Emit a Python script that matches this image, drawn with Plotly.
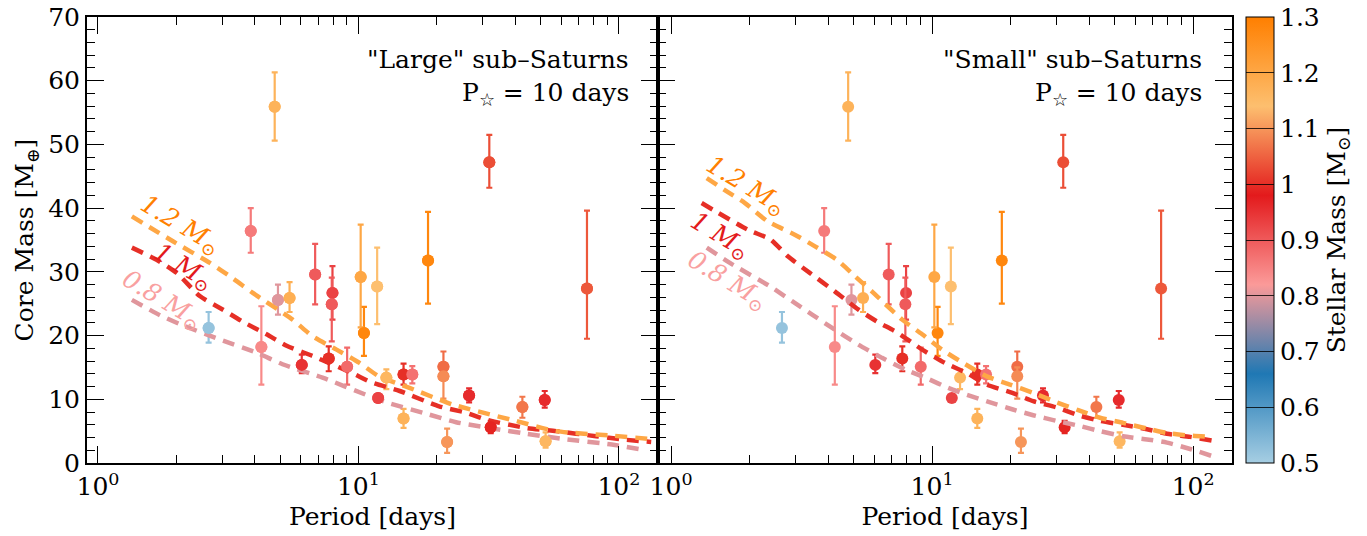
import numpy as np
import plotly.graph_objects as go

# ---------------- data ----------------
period = [4.77, 3.86, 2.66, 4.91, 5.44, 6.82, 7.95, 7.90, 10.5, 10.2, 11.8, 4.24, 6.06, 7.69, 9.05,
          11.9, 18.5, 75.4, 31.8, 12.8, 14.9, 16.1, 14.9, 21.2, 21.2, 21.9, 26.6, 32.2, 42.6, 51.9, 52.3]
core_mass = [55.9, 36.4, 21.2, 25.6, 25.9, 29.6, 26.7, 24.9, 20.4, 29.2, 27.7, 18.2, 15.4, 16.4, 15.1,
             10.2, 31.8, 27.4, 47.2, 13.4, 13.9, 13.9, 7.0, 15.1, 13.6, 3.3, 10.6, 5.6, 8.8, 9.9, 3.4]
core_upper = [61.3, 40.0, 23.7, 28.0, 28.4, 34.4, 30.9, 29.1, 24.5, 37.4, 33.8, 24.6, 17.0, 18.3, 18.1,
              10.8, 39.4, 39.6, 51.5, 14.7, 15.6, 15.2, 8.5, 17.5, 15.0, 5.4, 11.7, 6.6, 10.4, 11.3, 4.8]
core_lower = [50.6, 33.0, 18.9, 23.3, 23.7, 24.9, 22.5, 19.1, 16.8, 21.3, 21.8, 12.3, 14.1, 14.4, 12.3,
              9.7, 25.0, 19.5, 43.2, 11.6, 12.3, 12.5, 5.5, 13.5, 10.1, 1.6, 9.5, 4.7, 7.1, 8.7, 2.4]
stellar_mass = [1.17, 0.86, 0.52, 0.80, 1.18, 0.90, 0.93, 0.90, 1.28, 1.20, 1.14, 0.84, 0.95, 1.00, 0.88,
                0.93, 1.28, 1.04, 1.03, 1.16, 1.00, 0.87, 1.17, 1.06, 1.09, 1.10, 0.96, 0.99, 1.07, 0.96, 1.16]

# model curves, "Large" sub-Saturns panel
large_p_12 = [1.35, 1.94, 2.69, 3.29, 3.93, 5.59, 6.66, 8.24, 10.1, 12.0, 15.7, 22.9, 40.3, 57.4, 94.0, 130]
large_m_12 = [38.7, 34.8, 31.4, 29.0, 26.7, 22.5, 19.9, 17.8, 15.7, 13.6, 11.8, 9.2, 6.6, 5.0, 4.3, 3.8]
large_p_10 = [1.35, 1.68, 2.01, 2.46, 3.01, 3.59, 4.44, 5.30, 6.66, 9.48, 11.3, 14.4, 20.4, 25.9, 30.9,
              44.0, 57.4, 81.6, 103, 133]
large_m_10 = [33.8, 31.9, 29.8, 26.2, 24.1, 22.2, 20.2, 18.4, 16.8, 14.1, 12.6, 11.3, 8.9, 7.9, 6.8,
              5.5, 5.0, 4.2, 3.7, 3.3]
large_p_08 = [1.35, 1.73, 2.06, 2.93, 4.07, 5.11, 7.28, 10.7, 13.1, 18.7, 23.7, 42.5, 60.5, 94.0, 127]
large_m_08 = [25.6, 23.2, 21.8, 19.4, 17.3, 15.5, 13.4, 10.7, 9.4, 7.6, 6.4, 4.7, 3.8, 2.9, 2.0]

# model curves, "Small" sub-Saturns panel
small_p_12 = [1.37, 1.64, 1.92, 2.35, 2.99, 3.56, 4.32, 5.07, 5.89, 7.68, 9.16, 10.9, 12.8, 16.2, 19.9,
              24.4, 30.1, 36.3, 44.0, 53.9, 66.6, 79.4, 97.4, 119]
small_m_12 = [44.7, 42.6, 40.8, 37.9, 35.8, 34.0, 31.9, 29.3, 26.9, 22.5, 20.2, 17.8, 16.0, 13.6, 12.3,
              11.0, 9.5, 8.3, 7.1, 6.3, 5.4, 4.7, 4.3, 4.1]
small_p_10 = [1.31, 1.97, 2.40, 2.81, 3.41, 4.25, 5.21, 6.15, 7.41, 9.16, 11.2, 13.6, 16.2, 20.3, 24.4,
              30.1, 36.3, 44.0, 53.9, 66.6, 79.4, 97.4, 119]
small_m_10 = [40.8, 36.6, 35.1, 32.4, 29.8, 26.9, 24.1, 22.2, 20.4, 17.8, 15.7, 14.1, 12.3, 11.0, 9.7,
              8.7, 7.5, 6.6, 6.0, 5.3, 4.6, 4.1, 3.5]
small_p_08 = [1.37, 1.68, 2.40, 2.91, 3.47, 4.14, 5.21, 6.43, 7.88, 9.66, 11.5, 13.6, 16.7, 20.4, 24.4,
              30.1, 36.9, 44.0, 53.9, 66.6, 79.4, 97.4, 118]
small_m_08 = [33.8, 31.4, 27.7, 25.4, 23.3, 21.2, 18.6, 16.5, 14.7, 13.2, 11.8, 10.7, 9.5, 8.4, 7.5,
              6.6, 5.8, 5.0, 4.2, 3.7, 3.2, 2.2, 1.1]

cbar_ticks = [0.5, 0.6, 0.7, 0.8, 0.9, 1.0, 1.1, 1.2, 1.3]
cbar_labels = ["0.5", "0.6", "0.7", "0.8", "0.9", "1", "1.1", "1.2", "1.3"]
x_tickvals = [1, 10, 100]
x_ticktext = ["10<sup>0</sup>", "10<sup>1</sup>", "10<sup>2</sup>"]
x_minor = [2, 3, 4, 5, 6, 7, 8, 9, 20, 30, 40, 50, 60, 70, 80, 90]

# ---------------- styling ----------------
FONT = "DejaVu Serif"
TICK = 25
TITLE = 25
CMIN, CMAX = 0.5, 1.3
stops_hex = ["#a6cee3", "#1f78b4", "#fb9a99", "#e31a1c", "#fdbf6f", "#ff7f00"]
stops_pos = np.linspace(0, 1, len(stops_hex))
colorscale = [[float(p), c] for p, c in zip(stops_pos, stops_hex)]


def hex2rgb(h):
    h = h.lstrip("#")
    return np.array([int(h[i:i + 2], 16) for i in (0, 2, 4)], dtype=float)


stops_rgb = np.array([hex2rgb(c) for c in stops_hex])


def cmap(m):
    t = min(max((m - CMIN) / (CMAX - CMIN), 0), 1)
    rgb = [np.interp(t, stops_pos, stops_rgb[:, k]) for k in range(3)]
    return "rgb(%d,%d,%d)" % tuple(int(round(v)) for v in rgb)


fig = go.Figure()

panels = [
    ("x", "y", [(large_p_08, large_m_08, 0.8), (large_p_10, large_m_10, 1.0), (large_p_12, large_m_12, 1.2)]),
    ("x2", "y2", [(small_p_08, small_m_08, 0.8), (small_p_10, small_m_10, 1.0), (small_p_12, small_m_12, 1.2)]),
]

for xa, ya, curves in panels:
    for p, m, hi, lo, sm in zip(period, core_mass, core_upper, core_lower, stellar_mass):
        col = cmap(sm)
        fig.add_trace(go.Scatter(
            x=[p], y=[m], xaxis=xa, yaxis=ya, mode="markers",
            marker=dict(size=12, color=col, line=dict(width=0)),
            error_y=dict(type="data", symmetric=False, array=[hi - m], arrayminus=[m - lo],
                         color=col, thickness=2.2, width=3),
            showlegend=False, hoverinfo="skip"))
    for px, my, sm in curves:
        fig.add_trace(go.Scatter(
            x=px, y=my, xaxis=xa, yaxis=ya, mode="lines",
            line=dict(color=cmap(sm), width=4.5, dash="12px,8px", shape="spline", smoothing=0.6),
            showlegend=False, hoverinfo="skip"))

# colour bar carrier (same points, same colours)
fig.add_trace(go.Scatter(
    x=period, y=core_mass, xaxis="x", yaxis="y", mode="markers",
    marker=dict(size=12, color=stellar_mass, colorscale=colorscale, cmin=CMIN, cmax=CMAX,
                showscale=True,
                colorbar=dict(
                    x=1.0122, xanchor="left", y=0.5, yanchor="middle", len=1.0, lenmode="fraction",
                    thickness=28, outlinewidth=1, outlinecolor="black", xpad=0, ypad=0,
                    tickvals=cbar_ticks, ticktext=cbar_labels, ticks="inside", ticklen=28,
                    tickcolor="rgba(0,0,0,0.8)", tickwidth=1.2,
                    tickfont=dict(family=FONT, size=TICK, color="black"),
                    title=dict(text="Stellar Mass [M<sub>⊙</sub>]", side="right",
                               font=dict(family=FONT, size=TITLE, color="black")))),
    showlegend=False, hoverinfo="skip"))

split = 571 / 1145

xcommon = dict(type="log", tickvals=x_tickvals, ticktext=x_ticktext, ticks="inside", ticklen=17,
               tickwidth=1.3, tickcolor="black", showline=True, linewidth=2, linecolor="black",
               mirror="allticks", showgrid=False, zeroline=False,
               tickfont=dict(family=FONT, size=TICK, color="black"),
               minor=dict(tickvals=x_minor, ticks="inside", ticklen=8, tickwidth=1.1, tickcolor="black",
                          showgrid=False),
               title=dict(text="Period [days]", font=dict(family=FONT, size=TITLE, color="black"), standoff=7))
ycommon = dict(range=[0, 70], dtick=10, ticks="inside", ticklen=17, tickwidth=1.3, tickcolor="black",
               showline=True, linewidth=2, linecolor="black", mirror="allticks", showgrid=False,
               zeroline=False, tickfont=dict(family=FONT, size=TICK, color="black"),
               minor=dict(dtick=2, ticks="inside", ticklen=8, tickwidth=1.1, tickcolor="black",
                          showgrid=False))

fig.update_layout(
    width=1367, height=536,
    margin=dict(l=87, r=135, t=17, b=73, autoexpand=False),
    plot_bgcolor="white", paper_bgcolor="white",
    font=dict(family=FONT, size=TICK, color="black"),
    xaxis=dict(xcommon, domain=[0, split], range=[-0.042, 2.15], anchor="y"),
    xaxis2=dict(xcommon, domain=[split, 1], range=[-0.05, 2.149], anchor="y2"),
    yaxis=dict(ycommon, anchor="x",
               title=dict(text="Core Mass [M<sub>⊕</sub>]", font=dict(family=FONT, size=TITLE, color="black"),
                          standoff=7)),
    yaxis2=dict(ycommon, anchor="x2", showticklabels=False),
)

# panel titles
for xr, yr, name in [("x domain", "y domain", '"Large" sub–Saturns'),
                     ("x2 domain", "y2 domain", '"Small" sub–Saturns')]:
    fig.add_annotation(xref=xr, yref=yr, x=0.952, y=0.904, xanchor="right", yanchor="middle",
                       text=name, showarrow=False, font=dict(family=FONT, size=TITLE, color="black"))
    fig.add_annotation(xref=xr, yref=yr, x=0.952, y=0.828, xanchor="right", yanchor="middle",
                       text="P<sub>☆</sub> = 10 days", showarrow=False,
                       font=dict(family=FONT, size=TITLE, color="black"))

# curve labels
label_colors = {1.2: "#ff8000", 1.0: "#e31a1c", 0.8: "#f9a0a0"}
label_text = {1.2: "<i>1.2 M</i><sub>⊙</sub>", 1.0: "<i>1 M</i><sub>⊙</sub>", 0.8: "<i>0.8 M</i><sub>⊙</sub>"}
label_pos = [("x", "y", 1.2, 0.314, 37.3), ("x", "y", 1.0, 0.326, 30.7), ("x", "y", 0.8, 0.245, 25.6),
             ("x2", "y2", 1.2, 0.287, 43.5), ("x2", "y2", 1.0, 0.188, 35.7), ("x2", "y2", 0.8, 0.215, 28.5)]
for xr, yr, sm, lx, ly in label_pos:
    fig.add_annotation(xref=xr, yref=yr, x=lx, y=ly, text=label_text[sm], showarrow=False,
                       textangle=31, font=dict(family=FONT, size=25, color=label_colors[sm]))

fig.write_html("out.html", config={"displayModeBar": False},
               post_script="document.body.style.margin='0px';")
